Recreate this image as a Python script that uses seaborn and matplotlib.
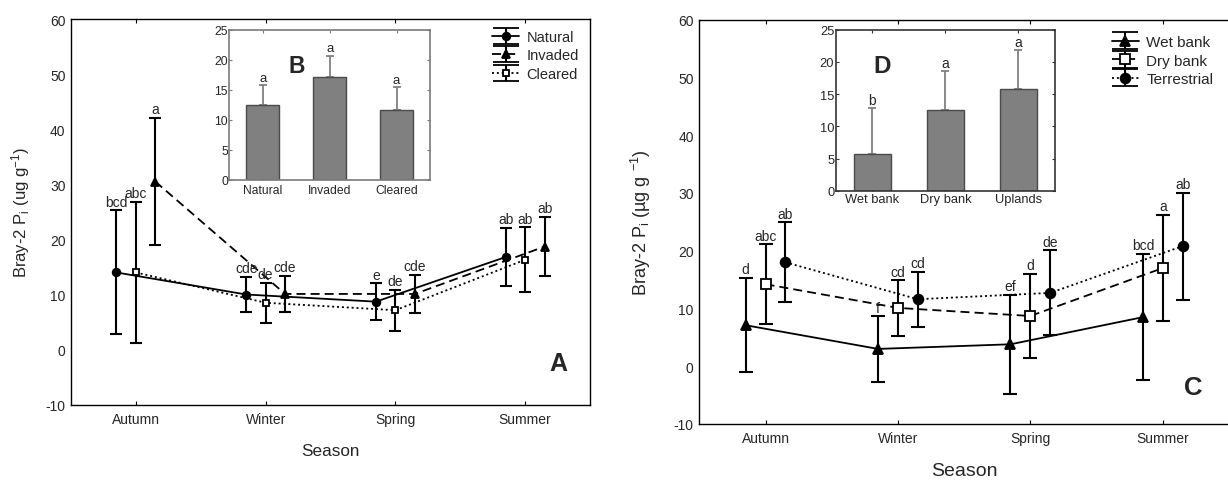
import numpy as np
import pandas as pd
import matplotlib
matplotlib.use("Agg")
import matplotlib.pyplot as plt
import seaborn as sns
from matplotlib.legend_handler import HandlerErrorbar
from matplotlib.container import ErrorbarContainer

sns.set_style("ticks")
plt.rcParams['font.family'] = ['Liberation Sans', 'DejaVu Sans']
plt.rcParams['mathtext.fontset'] = 'custom'
plt.rcParams['mathtext.rm'] = 'Liberation Sans'
plt.rcParams['mathtext.it'] = 'Liberation Sans:italic'
plt.rcParams['axes.unicode_minus'] = False

seasons = ["Autumn", "Winter", "Spring", "Summer"]

# ---- Panel A (season x treatment) ----
a_names = ["Natural", "Invaded", "Cleared"]
a_natural_mean = [14.0, 10.0, 8.7, 16.8]
a_natural_err = [11.25, 3.2, 3.3, 5.3]
a_invaded_mean = [30.5, 10.1, 10.1, 18.7]
a_invaded_err = [11.6, 3.25, 3.45, 5.4]
a_cleared_mean = [14.0, 8.5, 7.15, 16.3]
a_cleared_err = [12.8, 3.6, 3.75, 5.9]
a_natural_letters = ["bcd", "cde", "e", "ab"]
a_invaded_letters = ["a", "cde", "cde", "ab"]
a_cleared_letters = ["abc", "de", "de", "ab"]

# ---- Inset B ----
b_cats = ["Natural", "Invaded", "Cleared"]
b_mean = [12.5, 17.2, 11.6]
b_err = [3.3, 3.5, 3.9]
b_letters = ["a", "a", "a"]

# ---- Panel C (season x position) ----
c_names = ["Wet bank", "Dry bank", "Terrestrial"]
c_wet_mean = [7.1, 3.0, 3.8, 8.5]
c_wet_err = [8.15, 5.65, 8.6, 10.95]
c_dry_mean = [14.2, 10.1, 8.7, 17.0]
c_dry_err = [6.9, 4.8, 7.3, 9.2]
c_ter_mean = [18.0, 11.6, 12.7, 20.8]
c_ter_err = [6.9, 4.8, 7.35, 9.25]
c_wet_letters = ["d", "f", "ef", "bcd"]
c_dry_letters = ["abc", "cd", "d", "a"]
c_ter_letters = ["ab", "cd", "de", "ab"]

# ---- Inset D ----
d_cats = ["Wet bank", "Dry bank", "Uplands"]
d_mean = [5.65, 12.5, 15.8]
d_err = [7.2, 6.1, 6.05]
d_letters = ["b", "a", "a"]

W, H = 1228, 481
fig = plt.figure(figsize=(W / 100, H / 100), dpi=100)


def frac(x0, y0, x1, y1):
    return [x0 / W, 1 - y1 / H, (x1 - x0) / W, (y1 - y0) / H]


axA = fig.add_axes(frac(71, 20, 590, 405.7))
axC = fig.add_axes(frac(699.3, 20.7, 1229, 425))
axB = fig.add_axes(frac(229.3, 31, 430, 181))
axD = fig.add_axes(frac(835.7, 30.7, 1055, 191.7))


def main_panel(ax, means, errs, letters, styles, markers, mfcs, msizes, capsize,
               leg_capsize):
    x0 = np.arange(len(seasons))
    offsets = [-0.15, 0.15, 0.0]
    handles = []
    for m, e, lab, ls, mk, mfc, ms, off in zip(means, errs, letters, styles,
                                                markers, mfcs, msizes, offsets):
        xs = x0 + off
        df = pd.DataFrame({"x": xs, "y": m})
        sns.lineplot(data=df, x="x", y="y", ax=ax, color="k", linestyle=ls,
                     lw=1.3, marker=mk, markersize=ms, markerfacecolor=mfc,
                     markeredgecolor="k", markeredgewidth=1.3, legend=False,
                     sort=False, errorbar=None, zorder=3)
        ax.errorbar(xs, m, yerr=e, fmt="none", ecolor="k", elinewidth=1.5,
                    capsize=capsize, capthick=1.5, zorder=2)
        for xi, yi, ei, t in zip(xs, m, e, lab):
            ax.annotate(t, (xi, yi + ei), xytext=(0, 1.2), textcoords="offset points",
                        ha="center", va="bottom", fontsize=10, zorder=4)
        # legend proxy (no visible data)
        proxy = ax.errorbar([np.nan], [np.nan], yerr=[np.nan], color="k",
                            linestyle=ls, lw=1.3, marker=mk, markersize=ms,
                            mfc=mfc, mec="k", mew=1.3, elinewidth=1.5,
                            capsize=leg_capsize, capthick=1.5)
        handles.append(proxy)
    ax.set_xlim(-0.5, 3.5)
    ax.set_ylim(-10, 60)
    ax.set_yticks(range(-10, 61, 10))
    ax.set_xticks(x0)
    ax.set_xticklabels(seasons)
    ax.set_ylabel("")
    ax.set_xlabel("")
    ax.tick_params(axis="x", direction="in", length=3, top=True, bottom=True,
                   labelsize=10, pad=5, color="k")
    ax.tick_params(axis="y", direction="in", length=0, labelsize=10, pad=4)
    for s in ax.spines.values():
        s.set_color("k")
        s.set_linewidth(1.0)
    return handles


dash = (0, (5, 2.8))
dot = (0, (1.1, 1.6))

hA = main_panel(axA,
                [a_natural_mean, a_invaded_mean, a_cleared_mean],
                [a_natural_err, a_invaded_err, a_cleared_err],
                [a_natural_letters, a_invaded_letters, a_cleared_letters],
                ["-", dash, dot], ["o", "^", "s"], ["k", "k", "white"],
                [5.5, 6.0, 5.0], 4.3, 9.5)
hC = main_panel(axC,
                [c_wet_mean, c_ter_mean, c_dry_mean],
                [c_wet_err, c_ter_err, c_dry_err],
                [c_wet_letters, c_ter_letters, c_dry_letters],
                ["-", dot, dash], ["^", "o", "s"], ["k", "k", "white"],
                [7.5, 7.0, 6.5], 5.0, 9.5)
axC.spines["right"].set_visible(False)

axA.set_xlabel("Season", fontsize=12.3)
axA.xaxis.set_label_coords(0.5, -0.1)
axA.set_ylabel(r"Bray-2 P$_\mathregular{i}$ (ug g$^\mathregular{-1}$)", fontsize=12)
axA.yaxis.set_label_coords(-0.075, 0.5)

axC.set_xlabel("Season", fontsize=14)
axC.xaxis.set_label_coords(0.5, -0.094)
axC.set_ylabel(r"Bray-2 P$_\mathregular{i}$ (µg g $^\mathregular{-1}$)", fontsize=13)
axC.yaxis.set_label_coords(-0.087, 0.5)

axA.text(3.26, -2.5, "A", fontsize=18, fontweight="bold", ha="center", va="center")
axC.text(3.23, -3.6, "C", fontsize=18.5, fontweight="bold", ha="center", va="center")

# legends
hmap = {ErrorbarContainer: HandlerErrorbar(xerr_size=0.9, yerr_size=0.55)}
axA.legend([hA[0], hA[1], hA[2]], a_names, handler_map=hmap,
           loc="upper left", bbox_to_anchor=(491.7 / W, 1 - 31 / H),
           bbox_transform=fig.transFigure, frameon=False, fontsize=10.5,
           handlelength=1.9, handletextpad=0.5, labelspacing=0.3,
           borderpad=0, borderaxespad=0)
axC.legend([hC[0], hC[2], hC[1]], c_names, handler_map=hmap,
           loc="upper left", bbox_to_anchor=(1112 / W, 1 - 36 / H),
           bbox_transform=fig.transFigure, frameon=False, fontsize=11,
           handlelength=1.75, handletextpad=0.5, labelspacing=0.3,
           borderpad=0, borderaxespad=0)


def inset(ax, cats, mean, err, letters, spine_color, tick_fs, letter_fs, pad_x):
    sns.barplot(x=cats, y=mean, ax=ax, color="#808080", saturation=1, width=0.5,
                edgecolor="#4a4a4a", linewidth=1.0, errorbar=None, zorder=2)
    xs = np.arange(len(cats))
    ax.errorbar(xs, mean, yerr=[np.zeros(len(cats)), err], fmt="none",
                ecolor="#808080", elinewidth=1.3, capsize=3, capthick=1.3, zorder=1)
    for xi, yi, ei, t in zip(xs, mean, err, letters):
        ax.annotate(t, (xi, yi + ei), xytext=(0, 1), textcoords="offset points",
                    ha="center", va="bottom", fontsize=letter_fs)
    ax.set_xlim(-0.5, 2.5)
    ax.set_ylim(0, 25)
    ax.set_yticks(range(0, 26, 5))
    ax.set_xlabel("")
    ax.set_ylabel("")
    ax.tick_params(axis="x", direction="in", length=2, top=True, labelsize=tick_fs,
                   pad=pad_x, color=spine_color)
    ax.tick_params(axis="y", direction="in", length=2, right=True, labelsize=tick_fs,
                   pad=1, color=spine_color)
    for s in ax.spines.values():
        s.set_color(spine_color)
        s.set_linewidth(1.2)
    ax.set_facecolor("white")


inset(axB, b_cats, b_mean, b_err, b_letters, "#7a7a7a", 8.7, 9.5, 2.7)
inset(axD, d_cats, d_mean, d_err, d_letters, "#333333", 9.3, 10, 2.0)
axB.text(0.51, 19.05, "B", fontsize=16.5, fontweight="bold", ha="center", va="center")
axD.text(0.13, 19.4, "D", fontsize=17.5, fontweight="bold", ha="center", va="center")

fig.savefig("out.png", dpi=100)
